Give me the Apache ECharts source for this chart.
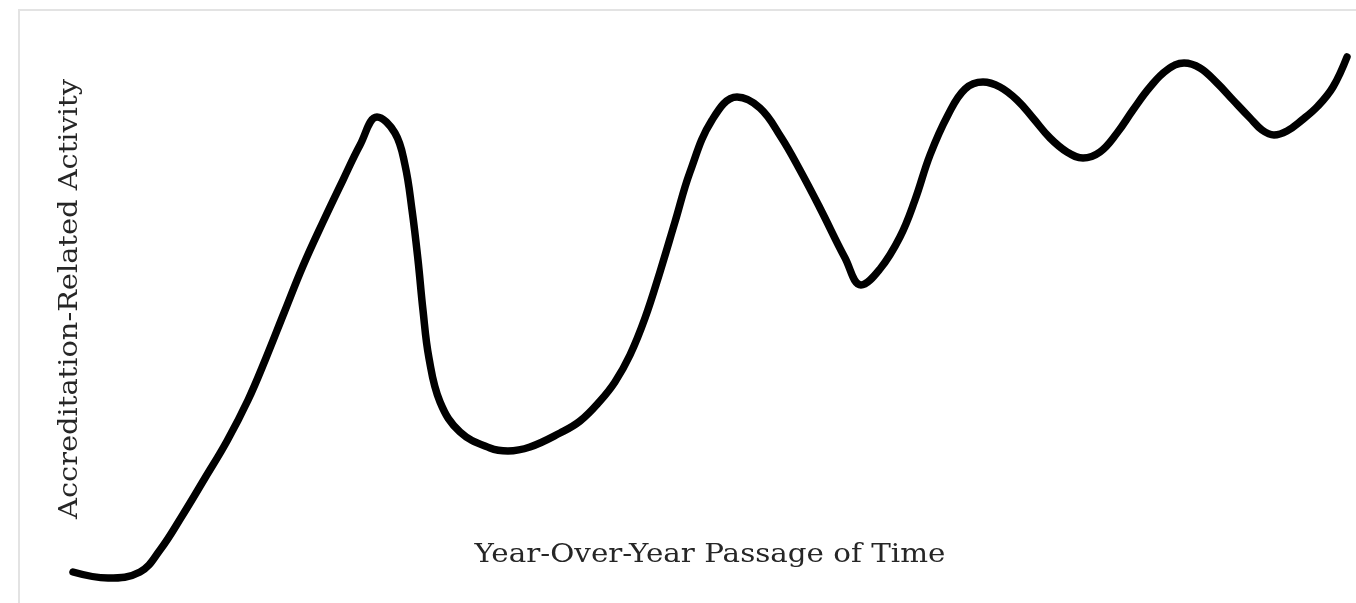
<!DOCTYPE html>
<html>
<head>
<meta charset="utf-8">
<script src="https://cdn.jsdelivr.net/npm/echarts@6/dist/echarts.min.js"></script>
<style>
html,body{margin:0;padding:0;background:#fff;}
#chart{width:1356px;height:603px;}
</style>
</head>
<body>
<div id="chart"></div>
<script>
// Time (0-100, relative) and activity (0-100, relative)
var timePoints = [0.00, 2.75, 5.26, 6.83, 8.56, 10.36, 12.09, 13.74, 15.15, 16.56, 18.05, 19.62, 21.19, 22.53, 23.86, 25.27, 26.06, 26.61, 27.08, 27.47, 27.94, 28.81, 30.38, 32.73, 34.14, 35.87, 38.23, 39.80, 41.37, 42.54, 43.72, 44.90, 46.07, 47.25, 48.43, 50.16, 52.12, 53.92, 55.57, 57.06, 58.63, 60.60, 61.85, 63.34, 64.91, 66.09, 67.27, 68.68, 70.02, 71.43, 72.76, 74.10, 75.35, 76.69, 78.02, 79.28, 80.61, 81.95, 83.20, 84.54, 85.87, 87.21, 88.46, 89.80, 91.05, 92.39, 93.33, 94.27, 95.29, 96.47, 97.72, 98.90, 100.00];
var activity = [1.15, 0.00, 1.15, 5.37, 11.90, 19.19, 26.30, 34.17, 42.23, 50.86, 59.88, 68.33, 76.39, 83.11, 88.48, 85.41, 79.27, 70.63, 61.04, 51.44, 42.23, 33.78, 28.02, 24.95, 24.38, 25.14, 27.83, 30.13, 33.97, 37.62, 42.80, 49.90, 58.73, 68.33, 77.93, 87.91, 92.32, 90.21, 84.64, 78.31, 71.02, 61.42, 56.24, 59.31, 65.45, 72.55, 81.19, 88.87, 93.86, 95.20, 94.24, 91.75, 88.29, 84.45, 81.77, 80.61, 81.77, 85.41, 89.83, 94.24, 97.50, 98.85, 97.89, 95.01, 91.75, 88.29, 85.99, 85.03, 85.80, 87.91, 90.60, 94.24, 100.00];
var xTitle = 'Year-Over-Year Passage of Time';
var yTitle = 'Accreditation-Related Activity';

var seriesData = timePoints.map(function (t, i) { return [t, activity[i]]; });

var chart = echarts.init(document.getElementById('chart'), null, {renderer: 'canvas'});
chart.setOption({
  animation: false,
  backgroundColor: '#ffffff',
  grid: {left: 73, right: 9, top: 57, bottom: 25},
  xAxis: {
    type: 'value', min: 0, max: 100,
    axisLine: {show: false}, axisTick: {show: false}, axisLabel: {show: false}, splitLine: {show: false}
  },
  yAxis: {
    type: 'value', min: 0, max: 100,
    axisLine: {show: false}, axisTick: {show: false}, axisLabel: {show: false}, splitLine: {show: false}
  },
  graphic: [
    {
      type: 'rect', silent: true, z: -1,
      shape: {x: 19, y: 10, width: 1500, height: 800},
      style: {fill: 'none', stroke: '#e3e3e3', lineWidth: 2}
    },
    {
      type: 'text', silent: true,
      x: 710, y: 555, scaleX: 1.13,
      style: {
        text: xTitle, fill: '#262626',
        font: '26px "DejaVu Serif", "Liberation Serif", serif',
        align: 'center', verticalAlign: 'middle'
      }
    },
    {
      type: 'text', silent: true,
      x: 70, y: 299, rotation: Math.PI / 2, scaleX: 1.11,
      style: {
        text: yTitle, fill: '#262626',
        font: '26px "DejaVu Serif", "Liberation Serif", serif',
        align: 'center', verticalAlign: 'middle'
      }
    }
  ],
  series: [{
    type: 'line',
    data: seriesData,
    smooth: 0.4,
    clip: false,
    showSymbol: false,
    symbol: 'none',
    lineStyle: {color: '#000000', width: 7.5, cap: 'round', join: 'round'}
  }]
});
</script>
</body>
</html>
